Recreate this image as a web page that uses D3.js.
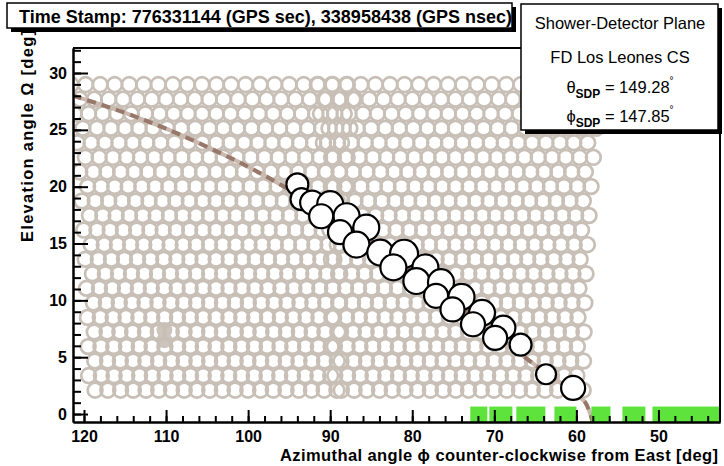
<!DOCTYPE html>
<html>
<head>
<meta charset="utf-8">
<script src="https://cdn.jsdelivr.net/npm/d3@7"></script>
<style>
  body { margin: 0; background: #fff; }
  text { font-family: "Liberation Sans", Arial, Helvetica, sans-serif; }
</style>
</head>
<body>
<svg id="root" width="724" height="466"></svg>
<script>
// axis ranges and ticks
const azRange = [121.34, 42.5]
const elRange = [-0.7, 32.2]
const xMajorTicks = [120, 110, 100, 90, 80, 70, 60, 50]
const xMinorTicks = [120, 118, 116, 114, 112, 110, 108, 106, 104, 102, 100, 98, 96, 94, 92, 90, 88, 86, 84, 82, 80, 78, 76, 74, 72, 70, 68, 66, 64, 62, 60, 58, 56, 54, 52, 50, 48, 46, 44]
const yMajorTicks = [0, 5, 10, 15, 20, 25, 30]
const yMinorTicks = [0, 1, 2, 3, 4, 5, 6, 7, 8, 9, 10, 11, 12, 13, 14, 15, 16, 17, 18, 19, 20, 21, 22, 23, 24, 25, 26, 27, 28, 29, 30, 31, 32]

// camera layout (two FD bays)
const cameraAzimuths = [104.3, 74.3]
const pixelRows = 22
const pixelCols = 20
const colStep = 1.55
const rowStep = 1.28
const bottomRowElev = 2.1

// pixels drawn filled in grey
const greyPixelAz = [110.2, 110.2]
const greyPixelEl = [7.4, 6.5]

// triggered pixels
const hitAz = [94.0, 93.5, 92.2, 90.0, 91.1, 88.0, 88.8, 85.6, 86.8, 83.9, 81.0, 82.3, 78.4, 79.5, 76.5, 77.1, 74.0, 75.1, 71.5, 72.6, 68.9, 69.9, 66.8, 63.7, 60.4]
const hitEl = [20.2, 18.9, 18.6, 18.46, 17.4, 17.4, 16.0, 16.4, 14.9, 14.2, 14.1, 12.9, 12.9, 11.7, 11.6, 10.4, 10.3, 9.2, 8.9, 7.9, 7.6, 6.7, 6.1, 3.5, 2.3]
const hitSignal = [123, 123, 147, 172, 147, 172, 147, 172, 172, 172, 200, 172, 172, 172, 172, 147, 172, 147, 172, 147, 147, 147, 123, 102, 147]

// shower-detector plane line
const sdpAz = [121.34, 115, 110, 105, 100, 95, 90, 85, 80, 75, 70, 65, 62, 60, 58.9, 58.0]
const sdpEl = [28.0, 26.5, 25.1, 23.5, 21.75, 19.75, 17.55, 15.2, 12.6, 9.9, 7.1, 4.3, 2.8, 1.7, 1.0, -0.75]

// green bins along the horizon
const binStart = [72.93, 70.61, 67.32, 62.68, 58.17, 54.39, 50.73]
const binEnd = [70.85, 67.8, 63.78, 60.0, 55.85, 51.59, 42.0]
const binTop = 0.66

const sdpTheta = "149.28"
const sdpPhi = "147.85"

const pLeft = 73, pRight = 720, pTop = 48, pBottom = 422

const svg = d3.select("#root")
const x = d3.scaleLinear(azRange, [pLeft, pRight])
const y = d3.scaleLinear(elRange, [pBottom, pTop])

svg.append("clipPath")
  .attr("id", "plot-area")
  .append("rect")
  .attr("x", pLeft)
  .attr("y", pTop)
  .attr("width", pRight - pLeft)
  .attr("height", pBottom - pTop)

const plot = svg.append("g").attr("clip-path", "url(#plot-area)")

// camera pixel grid, columns spread with 1/cos(elevation)
const pixels = []
cameraAzimuths.forEach(c => {
  for (let r = 0; r < pixelRows; r++) {
    const el = bottomRowElev + r * rowStep
    const s = 1 / Math.cos(el * Math.PI / 180)
    for (let k = 0; k < pixelCols; k++) {
      const a = (k - (pixelCols - 1) / 2) * colStep + (r % 2 ? -colStep / 4 : colStep / 4)
      pixels.push([c - a * s, el])
    }
  }
})

plot.append("g").selectAll("circle")
  .data(greyPixelAz.map((a, i) => [a, greyPixelEl[i]]))
  .join("circle")
  .attr("cx", d => x(d[0]))
  .attr("cy", d => y(d[1]))
  .attr("r", 8)
  .attr("fill", "#cdc4bc")

plot.append("g").selectAll("circle")
  .data(pixels)
  .join("circle")
  .attr("cx", d => x(d[0]))
  .attr("cy", d => y(d[1]))
  .attr("r", 7.4)
  .attr("fill", "none")
  .attr("stroke", "#c8bfb7")
  .attr("stroke-width", 2.7)

// SDP line
const line = d3.line()
  .x(d => x(d[0]))
  .y(d => y(d[1]))
  .curve(d3.curveCatmullRom)
const sdp = sdpAz.map((a, i) => [a, sdpEl[i]])
plot.append("path")
  .datum(sdp)
  .attr("d", line)
  .attr("fill", "none")
  .attr("stroke", "#c9b9ae")
  .attr("stroke-width", 4)
plot.append("path")
  .datum(sdp)
  .attr("d", line)
  .attr("fill", "none")
  .attr("stroke", "#98786a")
  .attr("stroke-width", 4)
  .attr("stroke-dasharray", "9,6")

// triggered pixels
const rScale = d3.scaleSqrt([0, 200], [0, 14])
plot.append("g").selectAll("circle")
  .data(hitAz.map((a, i) => [a, hitEl[i], hitSignal[i]]))
  .join("circle")
  .attr("cx", d => x(d[0]))
  .attr("cy", d => y(d[1]))
  .attr("r", d => rScale(d[2]))
  .attr("fill", "#fff")
  .attr("stroke", "#000")
  .attr("stroke-width", 2.2)

// green bins
plot.append("g").selectAll("rect")
  .data(binStart.map((s, i) => [s, binEnd[i]]))
  .join("rect")
  .attr("x", d => x(d[0]))
  .attr("width", d => x(d[1]) - x(d[0]))
  .attr("y", y(binTop))
  .attr("height", pBottom - y(binTop))
  .attr("fill", "#5ee23c")

// axes
const xAxisMinor = d3.axisBottom(x).tickValues(xMinorTicks).tickSize(-6).tickSizeOuter(0).tickFormat("")
const xAxis = d3.axisBottom(x).tickValues(xMajorTicks).tickSize(-12).tickSizeOuter(0).tickPadding(9)
const yAxisMinor = d3.axisLeft(y).tickValues(yMinorTicks).tickSize(-8).tickSizeOuter(0).tickFormat("")
const yAxis = d3.axisLeft(y).tickValues(yMajorTicks).tickSize(-15).tickSizeOuter(0).tickPadding(6)

function styleAxis(g) {
  g.selectAll("path, line").attr("stroke", "#000").attr("stroke-width", 2)
  g.selectAll("text")
    .attr("fill", "#000")
    .style("font-size", "16px")
    .style("font-weight", "bold")
    .style("font-family", "'Liberation Sans', Arial, sans-serif")
}

svg.append("g").attr("transform", `translate(0,${pBottom})`).call(xAxisMinor).call(styleAxis)
svg.append("g").attr("transform", `translate(0,${pBottom})`).call(xAxis).call(styleAxis)
svg.append("g").attr("transform", `translate(${pLeft},0)`).call(yAxisMinor).call(styleAxis)
svg.append("g").attr("transform", `translate(${pLeft},0)`).call(yAxis).call(styleAxis)

// frame top and right
svg.append("path")
  .attr("d", `M${pLeft},${pTop}H${pRight}V${pBottom}`)
  .attr("fill", "none")
  .attr("stroke", "#000")
  .attr("stroke-width", 2)

// axis titles
svg.append("text")
  .attr("x", 718)
  .attr("y", 461)
  .attr("text-anchor", "end")
  .attr("textLength", 438)
  .attr("lengthAdjust", "spacing")
  .style("font-size", "16.5px")
  .style("font-weight", "bold")
  .text("Azimuthal angle \u03d5 counter-clockwise from East [deg]")

svg.append("text")
  .attr("transform", "translate(33,30) rotate(-90)")
  .attr("text-anchor", "end")
  .attr("textLength", 212)
  .attr("lengthAdjust", "spacing")
  .style("font-size", "16.5px")
  .style("font-weight", "bold")
  .text("Elevation angle \u03a9 [deg]")

// boxes with shadow
function shadowBox(x0, y0, w, h) {
  svg.append("rect").attr("x", x0 + 4).attr("y", y0 + 4).attr("width", w).attr("height", h).attr("fill", "#000")
  svg.append("rect").attr("x", x0).attr("y", y0).attr("width", w).attr("height", h)
    .attr("fill", "#fff").attr("stroke", "#000").attr("stroke-width", 1.5)
}

shadowBox(7, 3, 505, 25)
svg.append("text")
  .attr("x", 19)
  .attr("y", 23)
  .style("font-size", "18px")
  .style("font-weight", "bold")
  .text("Time Stamp: 776331144 (GPS sec), 338958438 (GPS nsec)")

shadowBox(521, 4, 197, 126)
const cx = 620
svg.append("text").attr("x", cx).attr("y", 29).attr("text-anchor", "middle")
  .style("font-size", "16.5px").text("Shower-Detector Plane")
svg.append("text").attr("x", cx).attr("y", 63).attr("text-anchor", "middle")
  .style("font-size", "16.5px").text("FD Los Leones CS")

function sdpText(yPos, sym, val) {
  const t = svg.append("text").attr("x", cx).attr("y", yPos).attr("text-anchor", "middle")
    .style("font-size", "16.5px")
  t.append("tspan").text(sym)
  t.append("tspan").attr("dy", 5).style("font-size", "12px").style("font-weight", "bold").text("SDP")
  t.append("tspan").attr("dy", -5).text(" = " + val)
  t.append("tspan").attr("dy", -9).style("font-size", "10px").text("\u00b0")
}
sdpText(93, "\u03b8", sdpTheta)
sdpText(122, "\u03d5", sdpPhi)
</script>
</body>
</html>
